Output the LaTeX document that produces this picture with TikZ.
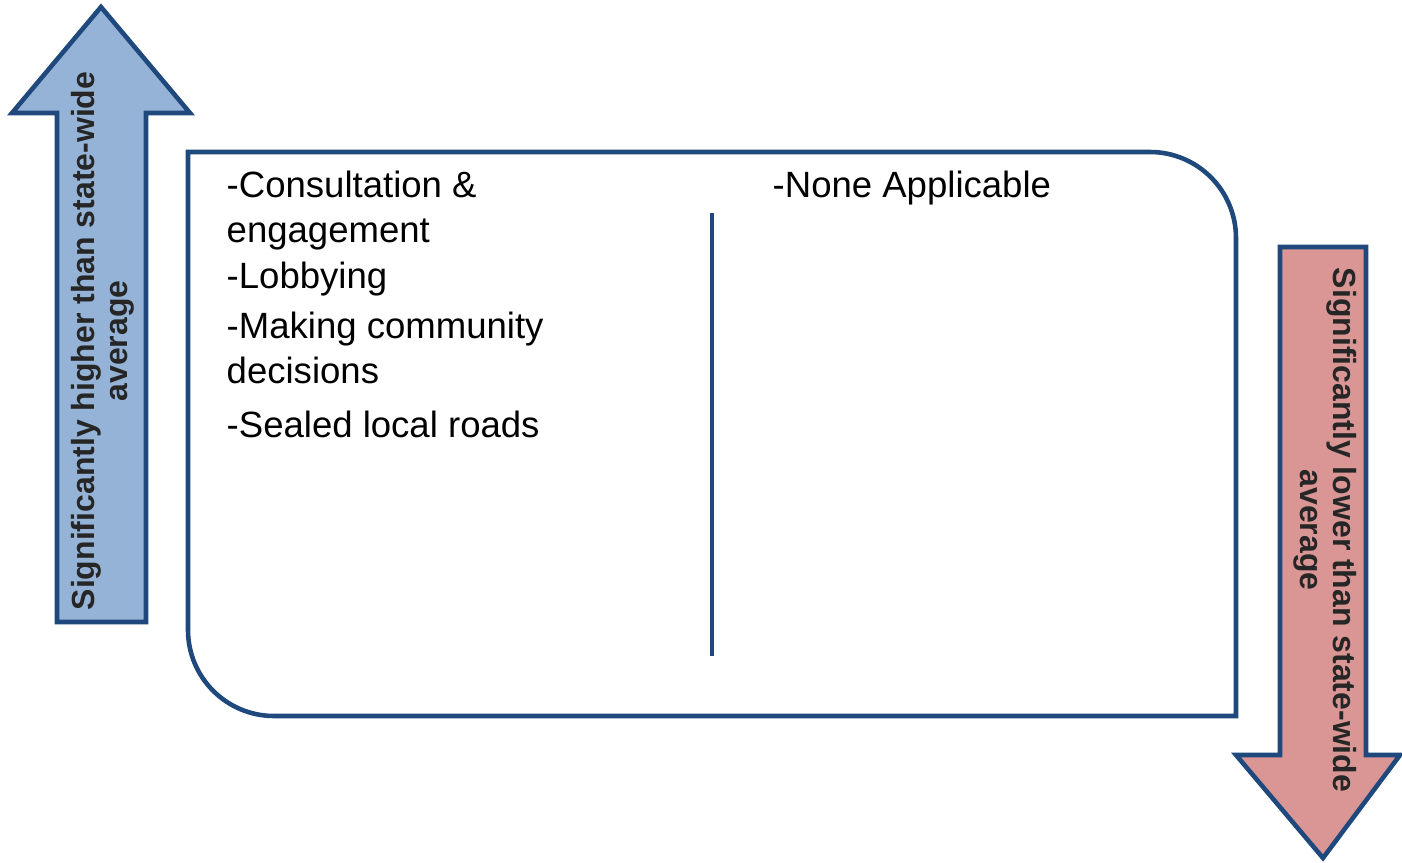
\documentclass[tikz,border=0pt]{standalone}
\usepackage{fontspec}
\setmainfont{Liberation Sans}
\definecolor{navy}{HTML}{1F497D}
\definecolor{upfill}{HTML}{95B3D7}
\definecolor{downfill}{HTML}{D99694}

\begin{document}
\begin{tikzpicture}[
  outline/.style={draw=navy, line width=1.3pt, line join=miter},
  item/.style={anchor=base west, inner sep=0pt, align=left, font=\fontsize{10.4}{12.8}\selectfont},
  side/.style={align=center, inner sep=0pt, text=black!85, font=\fontsize{9.1}{9.5}\selectfont\bfseries}
]
\useasboundingbox (0,0) rectangle (14.02,8.62);
\fill[white] (0,0) rectangle (14.02,8.62);
\filldraw[outline, fill=upfill] (0.57,2.40) -- (0.57,7.49) -- (0.12,7.49) -- (1.01,8.55)
  -- (1.90,7.49) -- (1.46,7.49) -- (1.46,2.40) -- cycle;
\filldraw[outline, fill=downfill] (12.80,6.15) -- (12.80,1.07) -- (12.36,1.07) -- (13.23,0.04)
  -- (14.00,1.07) -- (13.66,1.07) -- (13.66,6.15) -- cycle;
\draw[outline] (1.88,7.10) -- (11.50,7.10) arc[start angle=90, end angle=0, radius=0.86]
  -- (12.36,1.46) -- (2.74,1.46) arc[start angle=270, end angle=180, radius=0.86] -- cycle;
\coordinate (top) at (7.12,6.49);
\coordinate (bottom) at (7.12,2.06);
\draw[navy, line width=1.2pt] (top) -- (bottom);
\node[side, rotate=90] (higher) at (1.03,5.21) {Significantly higher than state-wide\\average};
\node[side, rotate=-90] (lower) at (13.25,3.32) {Significantly lower than state-wide\\average};
\node[item] (consult) at (2.26,6.20) {-Consultation \&\\engagement};
\node[item] (lobby) at (2.26,5.74) {-Lobbying};
\node[item] (decide) at (2.26,4.79) {-Making community\\decisions};
\node[item] (roads) at (2.26,4.25) {-Sealed local roads};
\node[item] (none) at (7.72,6.65) {-None Applicable};
\end{tikzpicture}
\end{document}
